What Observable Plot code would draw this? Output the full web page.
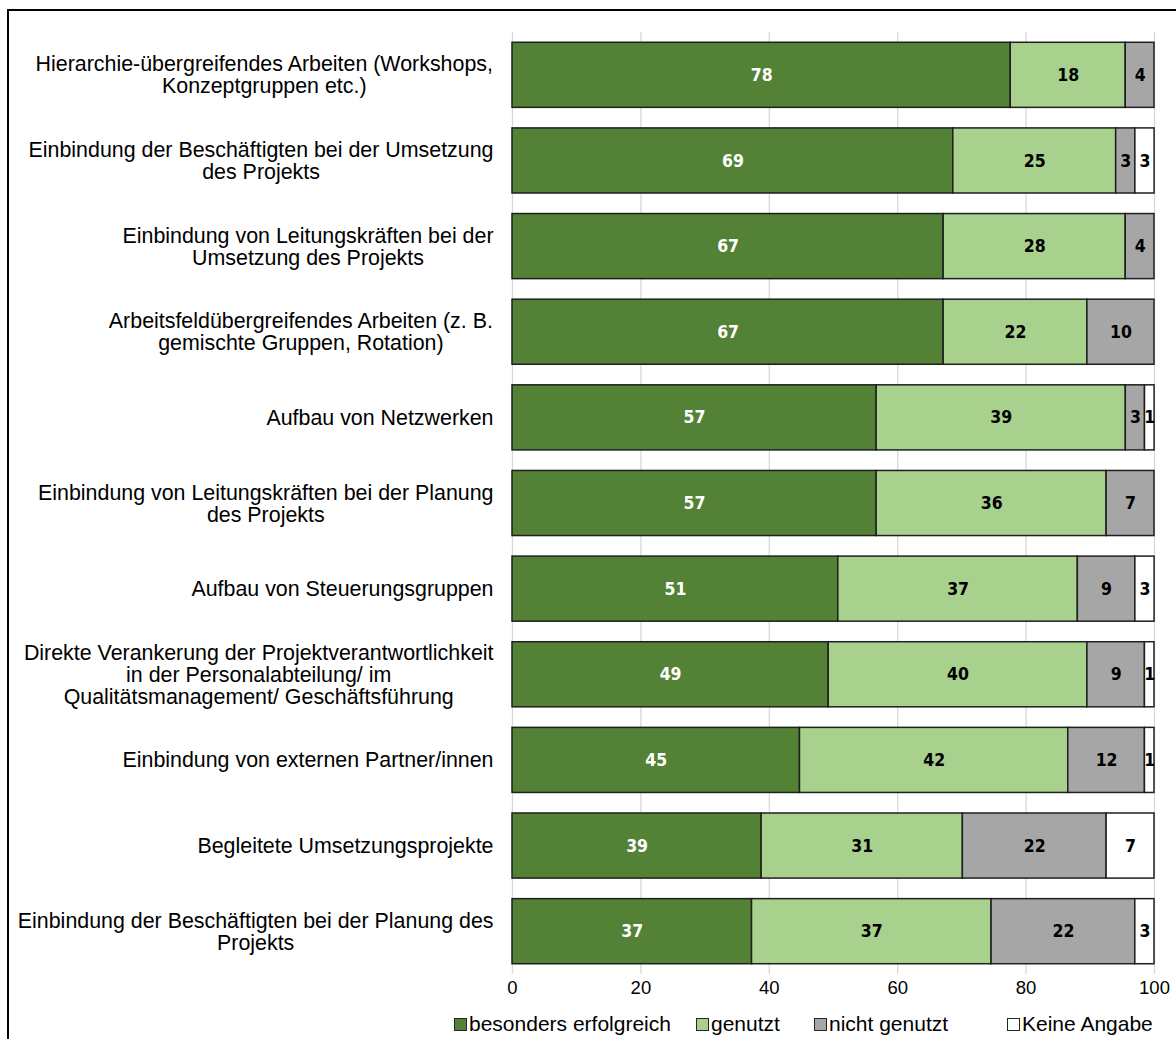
<!DOCTYPE html>
<html>
<head>
<meta charset="utf-8">
<script src="https://cdn.jsdelivr.net/npm/d3@7"></script>
<script src="https://cdn.jsdelivr.net/npm/@observablehq/plot@0.6"></script>
<style>
  html, body { margin: 0; padding: 0; background: #fff; }
  body { width: 1176px; height: 1039px; position: relative; overflow: hidden; font-family: "Liberation Sans", Arial, sans-serif; }
  #frame { position: absolute; left: 7px; top: 9px; width: 1300px; height: 1200px; border-left: 2px solid #000; border-top: 2px solid #000; pointer-events: none; }
  #chart { position: absolute; left: 0; top: 0; }
  #legend { position: absolute; left: 0; top: 1012px; width: 1176px; height: 26px; font-size: 21px; color: #000; }
  #legend .item { position: absolute; top: 0; display: flex; align-items: center; white-space: nowrap; }
  #legend .sw { width: 11px; height: 11px; border: 1px solid #262626; margin-right: 2px; display: inline-block; }
</style>
</head>
<body>
<div id="chart"></div>
<div id="legend"></div>
<div id="frame"></div>
<script>
const categories = [
  "Hierarchie-übergreifendes Arbeiten (Workshops,\nKonzeptgruppen etc.)",
  "Einbindung der Beschäftigten bei der Umsetzung\ndes Projekts",
  "Einbindung von Leitungskräften bei der\nUmsetzung des Projekts",
  "Arbeitsfeldübergreifendes Arbeiten (z. B.\ngemischte Gruppen, Rotation)",
  "Aufbau von Netzwerken",
  "Einbindung von Leitungskräften bei der Planung\ndes Projekts",
  "Aufbau von Steuerungsgruppen",
  "Direkte Verankerung der Projektverantwortlichkeit\nin der Personalabteilung/ im\nQualitätsmanagement/ Geschäftsführung",
  "Einbindung von externen Partner/innen",
  "Begleitete Umsetzungsprojekte",
  "Einbindung der Beschäftigten bei der Planung des\nProjekts"
];
const seriesNames = ["besonders erfolgreich", "genutzt", "nicht genutzt", "Keine Angabe"];
const seriesColors = ["#538135", "#A9D18E", "#A6A6A6", "#FFFFFF"];
const besondersErfolgreich = [77.61, 68.66, 67.16, 67.16, 56.72, 56.72, 50.75, 49.25, 44.78, 38.81, 37.31];
const genutzt              = [17.91, 25.37, 28.36, 22.39, 38.81, 35.82, 37.31, 40.30, 41.79, 31.34, 37.31];
const nichtGenutzt         = [ 4.48,  2.99,  4.48, 10.45,  2.99,  7.46,  8.96,  8.96, 11.94, 22.39, 22.39];
const keineAngabe          = [ 0.00,  2.99,  0.00,  0.00,  1.49,  0.00,  2.99,  1.49,  1.49,  7.46,  2.99];
const xTicks = [0, 20, 40, 60, 80, 100];

const seriesValues = [besondersErfolgreich, genutzt, nichtGenutzt, keineAngabe];
const rows = [];
categories.forEach((cat, i) => {
  seriesNames.forEach((s, j) => rows.push({cat, series: s, value: seriesValues[j][i]}));
});

const labelFont = "'Liberation Sans', Arial, sans-serif";
const labelSize = 21.4;
const ctx = document.createElement("canvas").getContext("2d");
ctx.font = `${labelSize}px ${labelFont}`;
const blockWidth = (s) => Math.max(...s.split("\n").map(l => ctx.measureText(l).width));

const labelMarks = categories.map(c => Plot.text([c], {
  frameAnchor: "left",
  y: d => d,
  text: d => d,
  textAnchor: "middle",
  lineAnchor: "middle",
  lineHeight: 1.03,
  fontSize: labelSize,
  fill: "#000",
  dx: -(19 + blockWidth(c) / 2)
}));

const valueFont = "'Liberation Sans Narrow', 'Arial Narrow', 'DejaVu Sans Condensed', sans-serif";
const valueText = (isFirst) => Plot.text(rows, Plot.stackX({
  filter: d => d.value > 0,
  x: "value", y: "cat", z: "series",
  text: d => (d.series === seriesNames[0]) === isFirst ? String(Math.round(d.value)) : "",
  fill: isFirst ? "#fff" : "#000", fontWeight: "bold", fontSize: 17.5, fontFamily: valueFont
}));

const chart = Plot.plot({
  width: 1176,
  height: 1004,
  marginLeft: 512,
  marginRight: 22,
  marginTop: 32,
  marginBottom: 30,
  style: {fontFamily: labelFont, fontSize: "18.5px", background: "transparent", color: "#000"},
  x: {domain: [0, 100], ticks: xTicks, tickSize: 0, tickPadding: 6, label: null},
  y: {domain: categories, paddingInner: 0.24, paddingOuter: 0.12, round: false, axis: null},
  color: {domain: seriesNames, range: seriesColors},
  marks: [
    Plot.ruleX(xTicks, {stroke: "#d9d9d9", strokeWidth: 1.3}),
    Plot.barX(rows, Plot.stackX({
      filter: d => d.value > 0,
      x: "value", y: "cat", z: "series", fill: "series",
      stroke: "#1f1f1f", strokeWidth: 1.5
    })),
    valueText(true),
    valueText(false),
    ...labelMarks
  ]
});
document.getElementById("chart").appendChild(chart);

const legendLefts = [454, 696, 814, 1007];
const legend = document.getElementById("legend");
seriesNames.forEach((s, i) => {
  const item = document.createElement("div");
  item.className = "item";
  item.style.left = legendLefts[i] + "px";
  const sw = document.createElement("span");
  sw.className = "sw";
  sw.style.background = seriesColors[i];
  const t = document.createElement("span");
  t.textContent = s;
  item.appendChild(sw);
  item.appendChild(t);
  legend.appendChild(item);
});
</script>
</body>
</html>
